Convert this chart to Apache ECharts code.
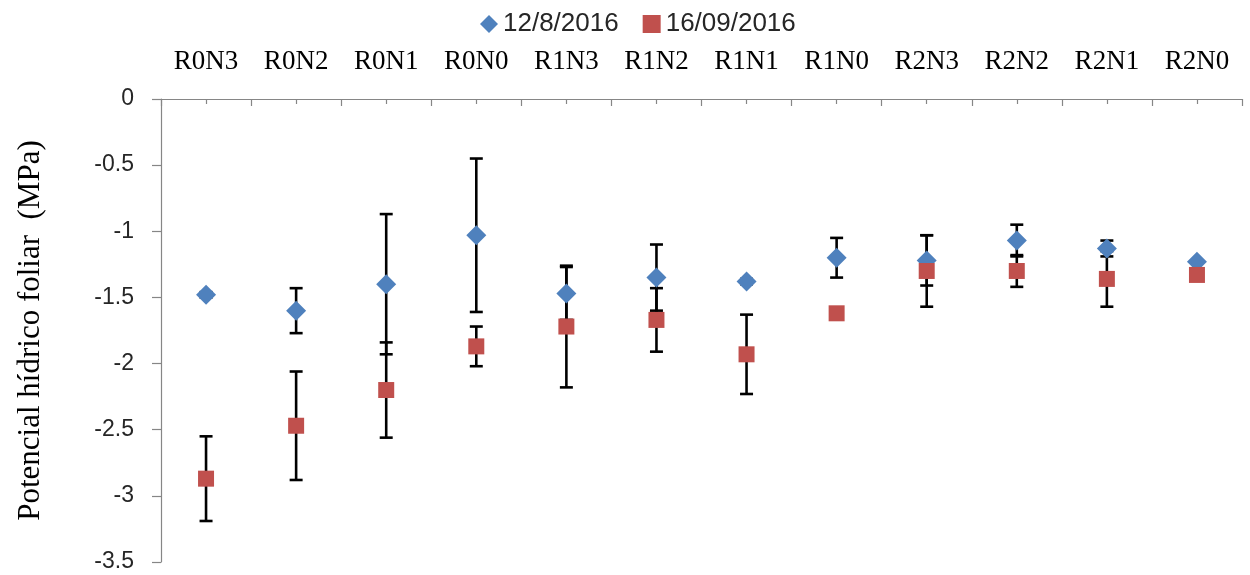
<!DOCTYPE html>
<html>
<head>
<meta charset="utf-8">
<script src="https://cdn.jsdelivr.net/npm/echarts@6/dist/echarts.min.js"></script>
<style>
  html, body { margin: 0; padding: 0; background: #fff; }
  #chart { width: 1250px; height: 575px; }
</style>
</head>
<body>
<div id="chart"></div>
<script>
// Treatments (irrigation R x nitrogen N)
const categories = ['R0N3', 'R0N2', 'R0N1', 'R0N0', 'R1N3', 'R1N2', 'R1N1', 'R1N0', 'R2N3', 'R2N2', 'R2N1', 'R2N0'];
const seriesNames = ['12/8/2016', '16/09/2016'];

// Leaf water potential (MPa), mean and error per treatment
const aug = [-1.48, -1.60, -1.40, -1.03, -1.47, -1.35, -1.38, -1.20, -1.22, -1.07, -1.13, -1.23];
const augErr = [0.02, 0.17, 0.53, 0.58, 0.20, 0.25, 0.02, 0.15, 0.19, 0.12, 0.06, 0];
const sep = [-2.87, -2.47, -2.20, -1.87, -1.72, -1.67, -1.93, -1.62, -1.30, -1.30, -1.36, -1.33];
const sepErr = [0.32, 0.41, 0.36, 0.15, 0.46, 0.24, 0.30, 0, 0.27, 0.12, 0.21, 0];

const yMin = -3.5, yMax = 0, yStep = 0.5;

const axisGray = '#868686';

// Vertical error bar with caps, drawn in data coordinates
function errorBars(values, errs) {
  return {
    type: 'custom',
    xAxisIndex: 0,
    yAxisIndex: 0,
    silent: true,
    z: 1,
    renderItem(params, api) {
      const i = api.value(0), v = api.value(1), e = api.value(2);
      if (!e) return null;
      const hi = api.coord([i, v + e]);
      const lo = api.coord([i, v - e]);
      const hw = 6.5;
      const style = { stroke: '#000', lineWidth: 2.6 };
      return {
        type: 'group',
        children: [
          { type: 'line', shape: { x1: hi[0], y1: hi[1], x2: lo[0], y2: lo[1] }, style },
          { type: 'line', shape: { x1: hi[0] - hw, y1: hi[1], x2: hi[0] + hw, y2: hi[1] }, style },
          { type: 'line', shape: { x1: lo[0] - hw, y1: lo[1], x2: lo[0] + hw, y2: lo[1] }, style }
        ]
      };
    },
    encode: { x: 0, y: 1 },
    data: values.map((v, i) => [i, v, errs[i]])
  };
}

const chart = echarts.init(document.getElementById('chart'), null, { renderer: 'canvas' });

chart.setOption({
  animation: false,
  backgroundColor: '#fff',
  legend: {
    data: [
      { name: seriesNames[0], icon: 'diamond' },
      { name: seriesNames[1], icon: 'rect' }
    ],
    left: 475,
    top: 6,
    itemWidth: 18,
    itemHeight: 18,
    itemGap: 24,
    textStyle: { fontFamily: 'Liberation Sans', fontSize: 26, color: '#262626' }
  },
  grid: { left: 161, right: 8, top: 99, bottom: 13, containLabel: false },
  xAxis: [
    {
      type: 'category',
      data: categories,
      position: 'top',
      boundaryGap: true,
      axisLine: { show: true, lineStyle: { color: axisGray, width: 1.2 } },
      axisTick: { show: true, inside: true, alignWithLabel: true, length: 5, lineStyle: { color: axisGray, width: 1.2 } },
      axisLabel: { margin: 24, fontFamily: 'Liberation Serif', fontSize: 27, color: '#000', interval: 0 },
      splitLine: { show: false }
    },
    {
      type: 'category',
      data: categories,
      position: 'top',
      boundaryGap: true,
      axisLine: { show: false },
      axisTick: { show: true, inside: true, length: 7, interval: 0, lineStyle: { color: axisGray, width: 1.2 } },
      axisLabel: { show: false },
      splitLine: { show: false }
    }
  ],
  yAxis: {
    type: 'value',
    min: yMin,
    max: yMax,
    interval: yStep,
    name: 'Potencial hídrico foliar  (MPa)',
    nameLocation: 'middle',
    nameGap: 115,
    nameTextStyle: { fontFamily: 'Liberation Serif', fontSize: 31, color: '#000' },
    axisLine: { show: true, lineStyle: { color: axisGray, width: 1.2 } },
    axisTick: { show: true, length: 9, lineStyle: { color: axisGray, width: 1.2 } },
    axisLabel: { margin: 27, fontFamily: 'Liberation Sans', fontSize: 23, color: '#262626' },
    splitLine: { show: false }
  },
  series: [
    errorBars(aug, augErr),
    errorBars(sep, sepErr),
    {
      name: seriesNames[0],
      type: 'scatter',
      symbol: 'diamond',
      symbolSize: 20,
      z: 3,
      itemStyle: { color: '#4F81BD', opacity: 1 },
      data: aug
    },
    {
      name: seriesNames[1],
      type: 'scatter',
      symbol: 'rect',
      symbolSize: 16,
      z: 4,
      itemStyle: { color: '#C0504D', opacity: 1 },
      data: sep
    }
  ]
});
</script>
</body>
</html>
